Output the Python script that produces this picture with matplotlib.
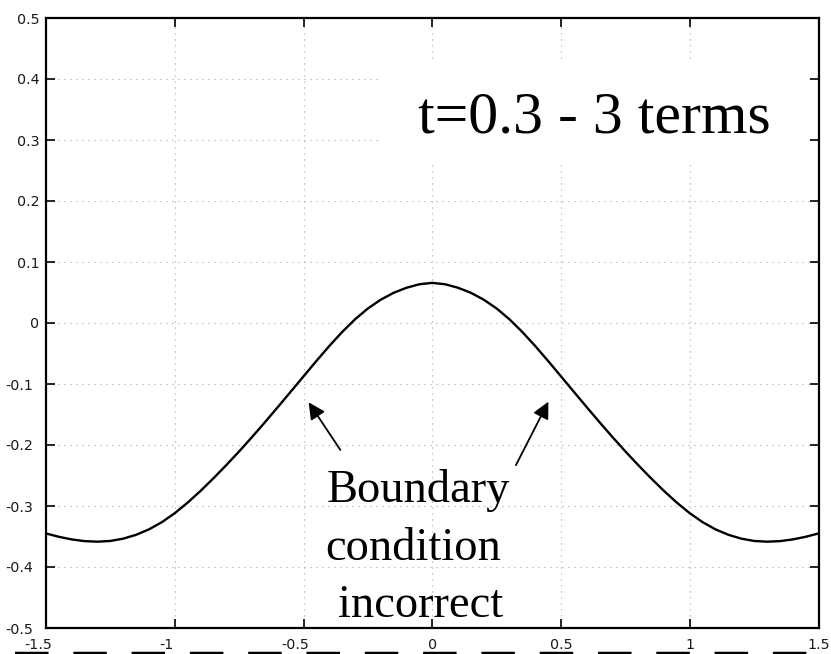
import matplotlib
matplotlib.use("Agg")
import matplotlib.pyplot as plt
from matplotlib.patches import Rectangle
from matplotlib.lines import Line2D
from matplotlib.transforms import ScaledTranslation

# ---- data ----
x_vals = [-1.50, -1.45, -1.40, -1.35, -1.30, -1.25, -1.20, -1.15, -1.10, -1.05,
          -1.00, -0.95, -0.90, -0.85, -0.80, -0.75, -0.70, -0.65, -0.60, -0.55,
          -0.50, -0.45, -0.40, -0.35, -0.30, -0.25, -0.20, -0.15, -0.10, -0.05,
          0.00,
          0.05, 0.10, 0.15, 0.20, 0.25, 0.30, 0.35, 0.40, 0.45, 0.50,
          0.55, 0.60, 0.65, 0.70, 0.75, 0.80, 0.85, 0.90, 0.95, 1.00,
          1.05, 1.10, 1.15, 1.20, 1.25, 1.30, 1.35, 1.40, 1.45, 1.50]
y_vals = [-0.3450, -0.3505, -0.3548, -0.3576, -0.3585, -0.3573, -0.3535, -0.3472, -0.3383, -0.3265,
          -0.3118, -0.2945, -0.2753, -0.2547, -0.2330, -0.2105, -0.1870, -0.1628, -0.1380, -0.1128,
          -0.0875, -0.0623, -0.0378, -0.0148, 0.0060, 0.0238, 0.0382, 0.0495, 0.0578, 0.0635,
          0.0658,
          0.0635, 0.0578, 0.0495, 0.0382, 0.0238, 0.0060, -0.0148, -0.0378, -0.0623, -0.0875,
          -0.1128, -0.1380, -0.1628, -0.1870, -0.2105, -0.2330, -0.2547, -0.2753, -0.2945, -0.3118,
          -0.3265, -0.3383, -0.3472, -0.3535, -0.3573, -0.3585, -0.3576, -0.3548, -0.3505, -0.3450]

xticks = [-1.5, -1, -0.5, 0, 0.5, 1, 1.5]
xtick_labels = ['-1.5', '-1', '-0.5', '0', '0.5', '1', '1.5']
yticks = [-0.5, -0.4, -0.3, -0.2, -0.1, 0, 0.1, 0.2, 0.3, 0.4, 0.5]
ytick_labels = ['-0.5', '-0.4', '-0.3', '-0.2', '-0.1', '0', '0.1', '0.2', '0.3', '0.4', '0.5']

title_text = 't=0.3 - 3 terms'
note_lines = ['Boundary', 'condition', 'incorrect']

# ---- figure ----
W, H = 831, 654
fig = plt.figure(figsize=(W / 100, H / 100), dpi=100)
fig.patch.set_facecolor('white')
ax = fig.add_axes([46 / W, 26 / H, 772.5 / W, 610 / H])

ax.plot(x_vals, y_vals, color='black', lw=1.7, zorder=4, solid_capstyle='round')
ax.set_xlim(-1.5, 1.5)
ax.set_ylim(-0.5, 0.5)
ax.set_xticks(xticks, xtick_labels)
ax.set_yticks(yticks, ytick_labels)
ax.tick_params(direction='in', length=6.5, width=1.2, top=True, right=True,
               labelsize=10.3, labelcolor='#1a1a1a', color='black')
ax.tick_params(axis='x', pad=7)
ax.tick_params(axis='y', pad=4.7)
for sp in ax.spines.values():
    sp.set_linewidth(1.6)
ax.grid(True, color='#a8a8a8', lw=0.8, linestyle=(0, (1, 4.4)))

# white box behind the title text (hides grid there)
ax.add_patch(Rectangle((-0.202, 0.262), 1.665, 0.164, facecolor='white',
                       edgecolor='none', zorder=2.6))
ax.text(0.628, 0.312, title_text, ha='center', va='baseline', fontsize=43,
        family='Liberation Serif', color='black', zorder=5)

note_x = [-0.053, -0.074, -0.044]
note_y = [-0.293, -0.3885, -0.4815]
for s, tx, ty in zip(note_lines, note_x, note_y):
    ax.text(tx, ty, s, ha='center', va='baseline', fontsize=33.5,
            family='Liberation Serif', color='black', zorder=5)

arrow_style = dict(arrowstyle='-|>', color='black', lw=1.3, mutation_scale=25,
                   shrinkA=0, shrinkB=0)
ax.annotate('', xy=(-0.480, -0.130), xytext=(-0.357, -0.208), arrowprops=arrow_style, zorder=5)
ax.annotate('', xy=(0.451, -0.129), xytext=(0.325, -0.233), arrowprops=arrow_style, zorder=5)

# MATLAB-like offset for negative tick labels
dx = ScaledTranslation(-8 / 100, 0, fig.dpi_scale_trans)
for t, lab in zip(ax.xaxis.get_major_ticks(), xtick_labels):
    if lab.startswith('-'):
        t.label1.set_transform(t.label1.get_transform() + dx)
dy = ScaledTranslation(-6 / 100, 0, fig.dpi_scale_trans)
for t, lab in zip(ax.yaxis.get_major_ticks(), ytick_labels):
    if lab.startswith('-'):
        t.label1.set_transform(t.label1.get_transform() + dy)

# dashed line cut by the bottom edge
lw_px = 2.5
lw_pt = lw_px * 0.72
on_pt, off_pt = 33.5 * 0.72, 24.8 * 0.72
fig.add_artist(Line2D([15 / W, 1.0], [1.2 / H, 1.2 / H], transform=fig.transFigure,
                      color='black', lw=lw_pt, solid_capstyle='butt', dash_capstyle='butt',
                      linestyle=(0, (on_pt / lw_pt, off_pt / lw_pt))))

fig.savefig('out.png', dpi=100, facecolor='white')
